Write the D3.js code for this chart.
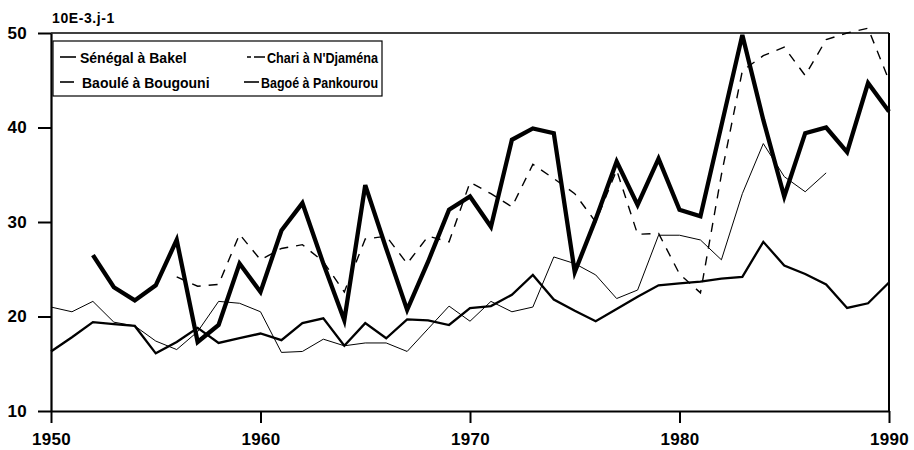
<!DOCTYPE html>
<html>
<head>
<meta charset="utf-8">
<script src="https://cdn.jsdelivr.net/npm/d3@7"></script>
<style>
  body { margin: 0; background: #fff; }
  text { font-family: "Liberation Sans", Arial, sans-serif; font-weight: bold; fill: #000; }
</style>
</head>
<body>
<div id="chart"></div>
<script>
// yearly values, 10E-3 per day (null = no data)
const years = [1950, 1951, 1952, 1953, 1954, 1955, 1956, 1957, 1958, 1959,
               1960, 1961, 1962, 1963, 1964, 1965, 1966, 1967, 1968, 1969,
               1970, 1971, 1972, 1973, 1974, 1975, 1976, 1977, 1978, 1979,
               1980, 1981, 1982, 1983, 1984, 1985, 1986, 1987, 1988, 1989, 1990];

const senegal = [21.0, 20.5, 21.6, 19.4, 19.0, 17.4, 16.5, 18.4, 21.6, 21.4,
                 20.5, 16.2, 16.3, 17.6, 16.9, 17.2, 17.2, 16.3, 18.7, 21.1,
                 19.5, 21.6, 20.5, 21.0, 26.3, 25.6, 24.4, 21.9, 22.8, 28.6,
                 28.6, 28.1, 26.0, 33.0, 38.3, 34.8, 33.2, 35.2, null, null, null];

const chari = [null, null, null, null, null, null, 24.2, 23.2, 23.4, 28.7,
               26.0, 27.2, 27.6, 25.8, 22.6, 28.2, 28.5, 25.6, 28.5, 27.9,
               34.2, 33.0, 31.6, 36.1, 34.6, 33.0, 30.0, 35.5, 28.7, 28.8,
               24.5, 22.5, 35.0, 46.0, 47.6, 48.5, 45.5, 49.3, 50.0, 50.5, 45.0];

const baoule = [16.3, 17.8, 19.4, 19.2, 19.0, 16.1, 17.3, 18.8, 17.2, 17.7,
                18.2, 17.5, 19.3, 19.8, 16.9, 19.3, 17.7, 19.7, 19.6, 19.1,
                20.9, 21.1, 22.3, 24.4, 21.8, 20.6, 19.5, 20.8, 22.1, 23.3,
                23.5, 23.7, 24.0, 24.2, 27.9, 25.4, 24.5, 23.4, 20.9, 21.4, 23.6];

const bagoe = [null, null, 26.5, 23.1, 21.7, 23.3, 28.1, 17.3, 19.1, 25.6,
               22.6, 29.1, 32.0, 25.6, 19.6, 33.9, 27.2, 20.7, 25.8, 31.3,
               32.7, 29.5, 38.7, 39.9, 39.4, 24.7, 30.3, 36.4, 31.8, 36.7,
               31.3, 30.6, 40.2, 49.8, 40.8, 32.7, 39.4, 40.0, 37.4, 44.7, 41.7];

const seriesNames = ["Sénégal à Bakel", "Chari à N'Djaména", "Baoulé à Bougouni", "Bagoé à Pankourou"];
const xTicks = [1950, 1960, 1970, 1980, 1990];
const yTicks = [10, 20, 30, 40, 50];
const unitLabel = "10E-3.j-1";

const width = 914;
const height = 450;

const svg = d3.select("#chart")
    .append("svg")
    .attr("width", width)
    .attr("height", height);

const x = d3.scaleLinear().domain([1950, 1990]).range([51, 889]);
const y = d3.scaleLinear().domain([10, 50]).range([411, 33]);

// frame (top and right)
svg.append("line")
    .attr("x1", x(1950)).attr("x2", x(1990))
    .attr("y1", y(50)).attr("y2", y(50))
    .attr("stroke", "#000").attr("stroke-width", 1.5);
svg.append("line")
    .attr("x1", x(1990)).attr("x2", x(1990))
    .attr("y1", y(50)).attr("y2", y(10))
    .attr("stroke", "#000").attr("stroke-width", 2);

// axes
const yAxis = svg.append("g")
    .attr("transform", `translate(${x(1950)},0)`)
    .call(d3.axisLeft(y).tickValues(yTicks).tickSize(13).tickSizeOuter(0).tickPadding(11));
const xAxis = svg.append("g")
    .attr("transform", `translate(0,${y(10)})`)
    .call(d3.axisBottom(x).tickValues(xTicks).tickFormat(d3.format("d"))
        .tickSize(12).tickSizeOuter(0).tickPadding(10));

[yAxis, xAxis].forEach(g => {
    g.select(".domain").attr("stroke-width", 2.2);
    g.selectAll(".tick line").attr("stroke-width", 2);
    g.selectAll(".tick text")
        .style("font-size", "17px")
        .style("letter-spacing", "0.3px")
        .attr("fill", "#000");
});

svg.append("text")
    .attr("x", 52)
    .attr("y", 23)
    .style("font-size", "14px")
    .style("letter-spacing", "0.6px")
    .text(unitLabel);

// series
const line = d3.line()
    .defined(d => d[1] != null)
    .x(d => x(d[0]))
    .y(d => y(d[1]));

const series = [
    {name: seriesNames[0], values: senegal, width: 1, dash: null},
    {name: seriesNames[1], values: chari, width: 1.4, dash: "9,8"},
    {name: seriesNames[2], values: baoule, width: 2.3, dash: null},
    {name: seriesNames[3], values: bagoe, width: 4.3, dash: null}
];

svg.selectAll("path.series")
    .data(series)
    .enter()
    .append("path")
    .attr("class", "series")
    .attr("fill", "none")
    .attr("stroke", "#000")
    .attr("stroke-width", d => d.width)
    .attr("stroke-dasharray", d => d.dash)
    .attr("d", d => line(years.map((yr, i) => [yr, d.values[i]])));

// legend
const legend = svg.append("g");
legend.append("rect")
    .attr("x", 53).attr("y", 41)
    .attr("width", 329).attr("height", 55)
    .attr("fill", "#fff")
    .attr("stroke", "#000").attr("stroke-width", 1.2);

// tw = squeeze for the right column so it stays inside the box
const legendItems = [
    {s: series[0], lx: 60, lw: 16, tx: 80, tw: null, ty: 63, sample: null},
    {s: series[1], lx: 247, lw: 18, tx: 267, tw: 111, ty: 63, sample: "4,3,11"},
    {s: series[2], lx: 60, lw: 14, tx: 82, tw: null, ty: 88, sample: null},
    {s: series[3], lx: 244, lw: 15, tx: 261, tw: 117, ty: 88, sample: null}
];

legendItems.forEach(it => {
    legend.append("line")
        .attr("x1", it.lx).attr("x2", it.lx + it.lw)
        .attr("y1", it.ty - 6).attr("y2", it.ty - 6)
        .attr("stroke", "#000")
        .attr("stroke-width", 1.6)
        .attr("stroke-dasharray", it.sample);
    const t = legend.append("text")
        .attr("x", it.tx).attr("y", it.ty)
        .style("font-size", "14px")
        .text(it.s.name);
    if (it.tw) t.attr("textLength", it.tw).attr("lengthAdjust", "spacingAndGlyphs");
});
</script>
</body>
</html>
